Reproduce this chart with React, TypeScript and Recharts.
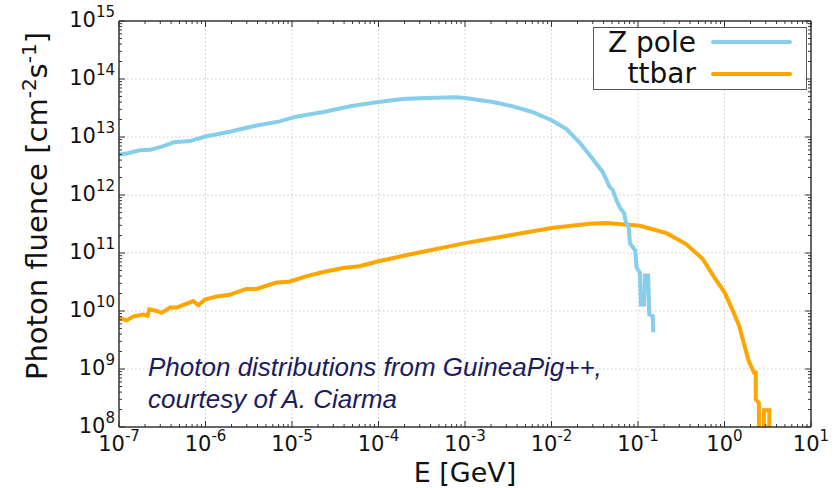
import React from 'react';
import { LineChart, Line, XAxis, YAxis, ReferenceLine, Legend, Label } from 'recharts';

// ---------- data ----------
const zpoleEnergy = [
  1.0e-7, 1.23e-7, 1.74e-7, 2.3e-7, 3.2e-7, 4.3e-7, 6.6e-7, 1.0e-6, 1.9e-6, 3.9e-6,
  7.2e-6, 1.12e-5, 2.3e-5, 4.7e-5, 1.0e-4, 1.9e-4, 3.5e-4, 7.9e-4, 1.0e-3, 2.1e-3,
  3.5e-3, 6.0e-3, 1.0e-2, 1.48e-2, 2.1e-2, 2.95e-2, 3.9e-2, 4.7e-2, 5.1e-2, 5.6e-2,
  6.2e-2, 6.9e-2, 0.0726, 0.078, 0.081, 0.093, 0.0964, 0.105, 0.108, 0.118,
  0.12, 0.131, 0.135, 0.148, 0.15,
];
const zpoleFluence = [
  5.0e12, 5.2e12, 5.9e12, 6.0e12, 6.9e12, 8.1e12, 8.5e12, 1.02e13, 1.23e13, 1.58e13,
  1.86e13, 2.24e13, 2.7e13, 3.4e13, 4.0e13, 4.5e13, 4.7e13, 4.85e13, 4.7e13, 4.0e13,
  3.4e13, 2.7e13, 1.95e13, 1.38e13, 8.1e12, 4.3e12, 2.5e12, 1.38e12, 1.23e12, 8.3e11,
  6.0e11, 4.9e11, 3.4e11, 2.8e11, 1.44e11, 1.1e11, 5.6e10, 4.6e10, 1.3e10, 1.3e10,
  4.1e10, 4.1e10, 8.7e9, 8.2e9, 4.3e9,
];
const ttbarEnergy = [
  1.0e-7, 1.23e-7, 1.48e-7, 1.9e-7, 2.14e-7, 2.24e-7, 2.75e-7, 3.1e-7, 3.9e-7, 4.7e-7,
  6.6e-7, 7.2e-7, 8.3e-7, 9.8e-7, 1.35e-6, 1.9e-6, 2.95e-6, 3.9e-6, 6.6e-6, 9.3e-6,
  1.48e-5, 2.3e-5, 3.9e-5, 6.0e-5, 1.0e-4, 2.2e-4, 1.0e-3, 3.2e-3, 1.0e-2, 2.75e-2,
  4.3e-2, 0.105, 0.214, 0.363, 0.56, 0.79, 1.0, 1.23, 1.48, 1.66,
  1.9, 2.19, 2.3, 2.3, 2.5, 2.5, 2.85, 2.85, 3.3, 3.3,
];
const ttbarFluence = [
  7.6e9, 6.9e9, 8.1e9, 8.7e9, 8.3e9, 1.07e10, 1.0e10, 9.3e9, 1.15e10, 1.15e10,
  1.41e10, 1.48e10, 1.26e10, 1.58e10, 1.78e10, 1.9e10, 2.4e10, 2.4e10, 3.1e10, 3.2e10,
  4.0e10, 4.7e10, 5.5e10, 5.9e10, 7.2e10, 9.3e10, 1.48e11, 2.0e11, 2.7e11, 3.2e11,
  3.3e11, 2.95e11, 2.2e11, 1.41e11, 7.9e10, 3.5e10, 2.1e10, 1.07e10, 5.5e9, 2.9e9,
  1.38e9, 8.7e8, 8.7e8, 3.0e8, 2.6e8, 9e7, 9e7, 1.95e8, 1.95e8, 9e7,
];

const xMajorTicks = [1e-7, 1e-6, 1e-5, 1e-4, 1e-3, 1e-2, 1e-1, 1e0, 1e1];
const yMajorTicks = [1e8, 1e9, 1e10, 1e11, 1e12, 1e13, 1e14, 1e15];
const minorMultipliers = [2, 3, 4, 5, 6, 7, 8, 9];

const seriesNames = ['Z pole', 'ttbar'];
const seriesColors = ['#87CEEB', '#FFA500'];

const annotationLines = ['Photon distributions from GuineaPig++,', 'courtesy of A. Ciarma'];
const xTitle = 'E [GeV]';

// ---------- helpers ----------
const withMinors = (majors: number[]) => {
  const out: number[] = [];
  majors.forEach((m, i) => {
    out.push(m);
    if (i < majors.length - 1) minorMultipliers.forEach((k) => out.push(k * m));
  });
  return out;
};
const xTicks = withMinors(xMajorTicks);
const yTicks = withMinors(yMajorTicks);

const zpoleData = zpoleEnergy.map((e, i) => ({ e, f: zpoleFluence[i] }));
const ttbarData = ttbarEnergy.map((e, i) => ({ e, f: ttbarFluence[i] }));

const isMajor = (v: number) => Math.abs(Math.log10(v) - Math.round(Math.log10(v))) < 1e-6;
const expOf = (v: number) => Math.round(Math.log10(v));

const SPINE = '#333333';
const FONT = '"DejaVu Sans", sans-serif';
const MAJ = 6;
const MIN = 3;
const LBL = 21;
const SUP = 15;

const Pow = ({ v }: { v: number }) => (
  <>
    <tspan>10</tspan>
    <tspan dy={-10} fontSize={SUP}>{String(expOf(v))}</tspan>
  </>
);

const BottomTick = (p: any) => {
  const { x, y, payload } = p;
  const v = payload.value;
  const major = isMajor(v);
  return (
    <g>
      <line x1={x} x2={x} y1={y} y2={y - (major ? MAJ : MIN)} stroke={SPINE} strokeWidth={1} />
      {major && (
        <text x={x} y={y + 24} textAnchor="middle" fontSize={LBL} fill="#111" fontFamily={FONT}>
          <Pow v={v} />
        </text>
      )}
    </g>
  );
};
const TopTick = (p: any) => {
  const { x, y, payload } = p;
  const major = isMajor(payload.value);
  return <line x1={x} x2={x} y1={y} y2={y + (major ? MAJ : MIN)} stroke={SPINE} strokeWidth={1} />;
};
const LeftTick = (p: any) => {
  const { x, y, payload } = p;
  const v = payload.value;
  const major = isMajor(v);
  return (
    <g>
      <line x1={x} x2={x + (major ? MAJ : MIN)} y1={y} y2={y} stroke={SPINE} strokeWidth={1} />
      {major && (
        <text x={x - 4} y={y + 6} textAnchor="end" fontSize={LBL} fill="#111" fontFamily={FONT}>
          <Pow v={v} />
        </text>
      )}
    </g>
  );
};
const RightTick = (p: any) => {
  const { x, y, payload } = p;
  const major = isMajor(payload.value);
  return <line x1={x} x2={x - (major ? MAJ : MIN)} y1={y} y2={y} stroke={SPINE} strokeWidth={1} />;
};

const YTitle = () => (
  <text
    x={47}
    y={206}
    transform="rotate(-90, 47, 206)"
    textAnchor="middle"
    fontSize={29}
    fill="#111"
    fontFamily={FONT}
  >
    <tspan>Photon fluence [cm</tspan>
    <tspan dy={-11} fontSize={20}>-2</tspan>
    <tspan dy={11}>s</tspan>
    <tspan dy={-11} fontSize={20}>-1</tspan>
    <tspan dy={11}>]</tspan>
  </text>
);

const XTitle = (props: any) => {
  const vb = props.viewBox || { x: 119, width: 692 };
  return (
    <text x={vb.x + vb.width / 2} y={482} textAnchor="middle" fontSize={27} fill="#111" fontFamily={FONT}>
      {xTitle}
    </text>
  );
};

const LegendBox = () => (
  <svg width={214} height={63} style={{ display: 'block' }}>
    <rect x={0.5} y={0.5} width={213} height={62} fill="#fff" stroke="#555" strokeWidth={1} />
    {seriesNames.map((n, i) => (
      <g key={n}>
        <text x={103} y={25 + i * 31} textAnchor="end" fontSize={28} fill="#111" fontFamily={FONT}>
          {n}
        </text>
        <line x1={120} x2={197} y1={15 + i * 32} y2={15 + i * 32} stroke={seriesColors[i]} strokeWidth={4} strokeLinecap="round" />
      </g>
    ))}
  </svg>
);

const axisLine = { stroke: SPINE, strokeWidth: 1.5 };

export default function App() {
  return (
    <div style={{ position: 'absolute', left: 0, top: 0, width: 840, height: 488, background: '#fff' }}>
      <LineChart width={840} height={488} margin={{ top: 0, right: 0, bottom: 0, left: 0 }}>
        <XAxis
          xAxisId="b"
          dataKey="e"
          type="number"
          scale="log"
          domain={[1e-7, 10]}
          allowDataOverflow
          ticks={xTicks}
          interval={0}
          tickSize={0}
          tickMargin={0}
          tickLine={false}
          tick={<BottomTick />}
          axisLine={axisLine}
          height={61}
          orientation="bottom"
        >
          <Label content={<XTitle />} />
        </XAxis>
        <XAxis
          xAxisId="t"
          dataKey="e"
          type="number"
          scale="log"
          domain={[1e-7, 10]}
          allowDataOverflow
          ticks={xTicks}
          interval={0}
          tickSize={0}
          tickMargin={0}
          tickLine={false}
          tick={<TopTick />}
          axisLine={axisLine}
          height={21}
          orientation="top"
        />
        <YAxis
          yAxisId="l"
          dataKey="f"
          type="number"
          scale="log"
          domain={[1e8, 1e15]}
          allowDataOverflow
          ticks={yTicks}
          interval={0}
          tickSize={0}
          tickMargin={0}
          tickLine={false}
          tick={<LeftTick />}
          axisLine={axisLine}
          width={119}
          orientation="left"
          label={<YTitle />}
        />
        <YAxis
          yAxisId="r"
          dataKey="f"
          type="number"
          scale="log"
          domain={[1e8, 1e15]}
          allowDataOverflow
          ticks={yTicks}
          interval={0}
          tickSize={0}
          tickMargin={0}
          tickLine={false}
          tick={<RightTick />}
          axisLine={axisLine}
          width={29}
          orientation="right"
        />
        {xMajorTicks.slice(1, -1).map((v) => (
          <ReferenceLine key={'gx' + v} x={v} xAxisId="b" yAxisId="l" stroke="#cccccc" strokeWidth={1} strokeDasharray="1.5 2.5" />
        ))}
        {yMajorTicks.slice(1, -1).map((v) => (
          <ReferenceLine key={'gy' + v} y={v} xAxisId="b" yAxisId="l" stroke="#cccccc" strokeWidth={1} strokeDasharray="1.5 2.5" />
        ))}
        <Line
          data={ttbarData}
          xAxisId="b"
          yAxisId="l"
          dataKey="f"
          name={seriesNames[1]}
          type="linear"
          stroke={seriesColors[1]}
          strokeWidth={4}
          dot={false}
          isAnimationActive={false}
        />
        <Line
          data={zpoleData}
          xAxisId="b"
          yAxisId="l"
          dataKey="f"
          name={seriesNames[0]}
          type="linear"
          stroke={seriesColors[0]}
          strokeWidth={4}
          dot={false}
          isAnimationActive={false}
        />
        <Legend
          layout="vertical"
          align="center"
          verticalAlign="middle"
          wrapperStyle={{ left: 593, top: 27, width: 214, height: 63 }}
          content={() => <LegendBox />}
        />
      </LineChart>
      <svg
        width={840}
        height={488}
        style={{ position: 'absolute', left: 0, top: 0, pointerEvents: 'none' }}
      >
        {annotationLines.map((t, i) => (
          <text
            key={t}
            x={148}
            y={376 + i * 32}
            fontFamily='"Liberation Sans", Arial, sans-serif'
            fontStyle="italic"
            fontSize={26}
            fill="#1b1b5e"
          >
            {t}
          </text>
        ))}
      </svg>
    </div>
  );
}
